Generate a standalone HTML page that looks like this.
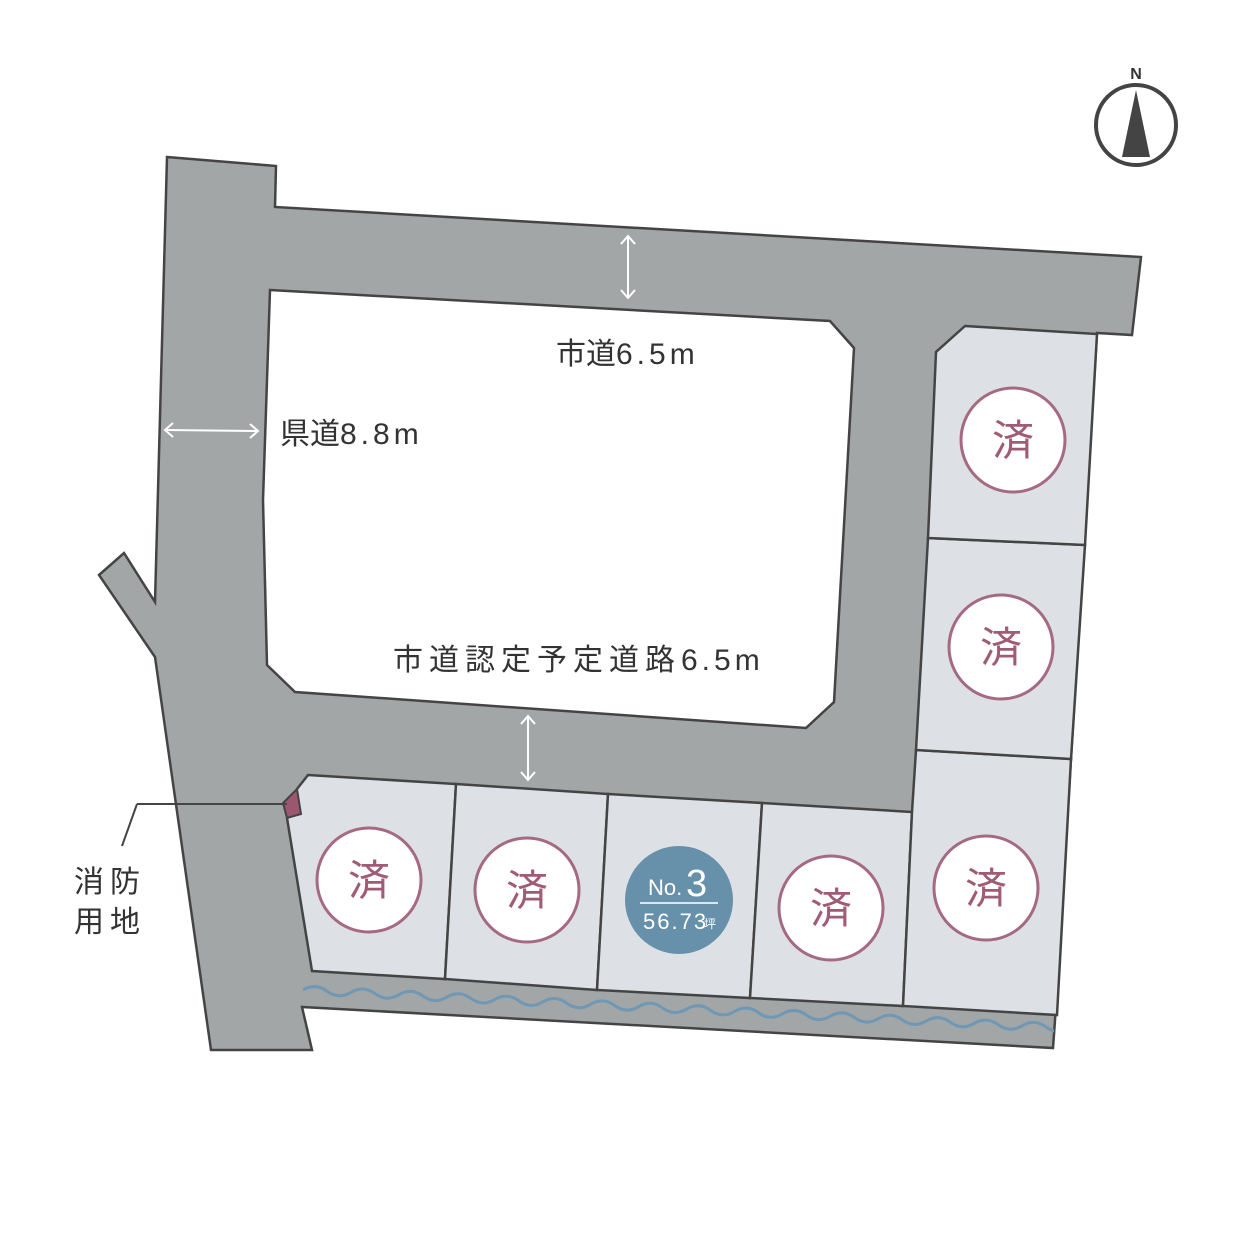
<!DOCTYPE html>
<html><head><meta charset="utf-8"><style>body{margin:0;background:#fff}svg{display:block}</style></head><body>
<svg width="1241" height="1241" viewBox="0 0 1241 1241" xmlns="http://www.w3.org/2000/svg" font-family="'Liberation Sans','Noto Sans CJK JP',sans-serif">
<defs><clipPath id="band"><polygon points="303,975 1055,1015 1053,1048 302,1010"/></clipPath></defs>
<polygon points="167,157 276,166 275,207 1141,257 1132,335 1097,333 1055,1020 1053,1048 302,1007 312,1050 211,1050 155,657 99,575 124,553 155,602" fill="#a3a6a6" stroke="#444" stroke-width="2.5"/>
<polygon points="270,290 830,321 854,348 834,702 806,728 295,692 267,665 263,500" fill="#fff" stroke="#444" stroke-width="2.5"/>
<g fill="#dde1e6" stroke="#444" stroke-width="2.5">
<polygon points="308,775 456,784 445,979 312,971 287,818 297,789"/>
<polygon points="456,784 608,794 597,990 445,979"/>
<polygon points="608,794 762,803 750,998 597,990"/>
<polygon points="762,803 912,812 903,1006 750,998"/>
<polygon points="916,750 1071,759 1057,1015 903,1006 912,812"/>
<polygon points="928,538 1085,545 1071,759 916,750"/>
<polygon points="965,326 1097,334 1085,545 928,538 936,352"/>
</g>
<polygon points="297,789 301,814 287,818 283,803" fill="#9c566f" stroke="#444" stroke-width="2"/>
<g clip-path="url(#band)">
<path d="M303,990 q12,-8 24,0 t24,0 t24,0 t24,0 t24,0 t24,0 t24,0 t24,0 t24,0 t24,0 t24,0 t24,0 t24,0 t24,0 t24,0 t24,0 t24,0 t24,0 t24,0 t24,0 t24,0 t24,0 t24,0 t24,0 t24,0 t24,0 t24,0 t24,0 t24,0 t24,0 t24,0 t24,0" fill="none" stroke="#6e98b5" stroke-width="3" transform="rotate(2.85 303 990)"/>
</g>
<line x1="137" y1="804" x2="287" y2="804" stroke="#444" stroke-width="2"/>
<line x1="137" y1="804" x2="122" y2="846" stroke="#444" stroke-width="2"/>
<g stroke="#fff" stroke-width="2" fill="none">
<line x1="628" y1="236" x2="628" y2="298"/><path d="M621,244 L628,236 L635,244 M621,290 L628,298 L635,290"/>
<line x1="528" y1="716" x2="528" y2="780"/><path d="M521,724 L528,716 L535,724 M521,772 L528,780 L535,772"/>
<line x1="165" y1="430" x2="258" y2="431"/><path d="M173,423 L165,430 L173,437 M250,424 L258,431 L250,438"/>
</g>
<g fill="#333" font-size="30">
<text x="556" y="364">市道<tspan letter-spacing="4">6.5m</tspan></text>
<text x="280" y="444">県道<tspan letter-spacing="4">8.8m</tspan></text>
<text x="393" y="670" letter-spacing="6">市道認定予定道路<tspan letter-spacing="4">6.5m</tspan></text>
<text x="74" y="892" letter-spacing="6">消防</text>
<text x="74" y="932" letter-spacing="6">用地</text>
</g>
<g fill="#fff" stroke="#a56a82" stroke-width="3">
<circle cx="1013" cy="440" r="52"/><circle cx="1001" cy="647" r="52"/><circle cx="369" cy="880" r="52"/><circle cx="527" cy="890" r="52"/><circle cx="831" cy="908" r="52"/><circle cx="986" cy="888" r="52"/>
</g>
<g fill="#a05c75" font-size="42" text-anchor="middle">
<text x="1013" y="455">済</text><text x="1001" y="662">済</text><text x="369" y="895">済</text><text x="527" y="905">済</text><text x="831" y="923">済</text><text x="986" y="903">済</text>
</g>
<circle cx="679" cy="900" r="54" fill="#6790ab"/>
<line x1="640" y1="903" x2="718" y2="903" stroke="#dce6ee" stroke-width="2"/>
<g fill="#fff"><text x="648" y="895" font-size="22">No.</text><text x="686" y="896" font-size="38">3</text><text x="643" y="929" font-size="22" letter-spacing="2">56.73</text><text x="704" y="928" font-size="12">坪</text></g>
<circle cx="1136" cy="125" r="40" fill="#fff" stroke="#444" stroke-width="4"/>
<polygon points="1122,157 1136,90 1150,157" fill="#444"/>
<text x="1136" y="79" font-size="16" fill="#333" text-anchor="middle" font-weight="bold">N</text>
</svg>
</body></html>
